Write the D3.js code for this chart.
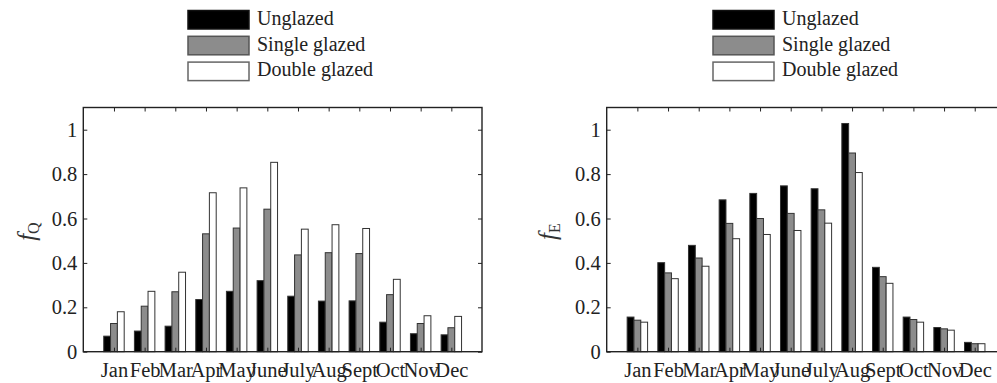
<!DOCTYPE html>
<html>
<head>
<meta charset="utf-8">
<script src="https://cdn.jsdelivr.net/npm/d3@7"></script>
<style>
  html, body { margin: 0; padding: 0; background: #fff; }
  svg { display: block; }
</style>
</head>
<body>
<svg id="chart" width="997" height="383"></svg>
<script>
const months = ["Jan","Feb","Mar","Apr","May","June","July","Aug","Sept","Oct","Nov","Dec"];
const seriesNames = ["Unglazed","Single glazed","Double glazed"];
const unglazedQ = [0.070,0.093,0.115,0.235,0.272,0.320,0.250,0.228,0.229,0.133,0.081,0.076];
const singleQ   = [0.127,0.205,0.270,0.531,0.557,0.642,0.436,0.446,0.442,0.257,0.127,0.108];
const doubleQ   = [0.180,0.272,0.358,0.716,0.738,0.853,0.552,0.572,0.555,0.326,0.162,0.159];
const unglazedE = [0.156,0.401,0.479,0.684,0.713,0.747,0.734,1.028,0.380,0.156,0.109,0.042];
const singleE   = [0.142,0.355,0.422,0.578,0.600,0.623,0.639,0.895,0.338,0.145,0.103,0.036];
const doubleE   = [0.133,0.329,0.385,0.509,0.528,0.546,0.579,0.807,0.308,0.133,0.097,0.036];
const yTicks = [0,0.2,0.4,0.6,0.8,1];
const yTickLabels = ["0","0.2","0.4","0.6","0.8","1"];

const fills = ["#000000","#8c8c8c","#ffffff"];
const legendStrokes = ["#111","#555","#666"];
const FONT = "'Liberation Serif','Times New Roman',serif";

const svg = d3.select("#chart");

function panel(opts) {
  const {x0, top, bottom, width, series, sub, labelX, legendX} = opts;
  const g = svg.append("g");
  const x = d3.scaleLinear().domain([0, 13]).range([x0, x0 + width]);
  const y = d3.scaleLinear().domain([0, 1.1]).range([bottom, top]);
  const bw = 2/9; // each bar width in x units

  // bars
  series.forEach((vals, si) => {
    g.append("g").selectAll("rect").data(vals).join("rect")
      .attr("x", (d, i) => x(i + 1 + (si - 1) * bw - bw / 2))
      .attr("width", (d, i) => x(bw) - x(0))
      .attr("y", d => y(d))
      .attr("height", d => y(0) - y(d))
      .attr("fill", fills[si])
      .attr("stroke", "#333")
      .attr("stroke-width", 1);
  });

  const ticksX = d3.range(1, 13);
  const ax = g.append("g").attr("transform", `translate(${x0},0)`)
    .call(d3.axisLeft(y).tickValues(yTicks).tickFormat((d, i) => yTickLabels[i])
      .tickSizeInner(-4).tickSizeOuter(0).tickPadding(6));
  const ar = g.append("g").attr("transform", `translate(${x0 + width},0)`)
    .call(d3.axisRight(y).tickValues(yTicks).tickFormat("")
      .tickSizeInner(-4).tickSizeOuter(0));
  const ab = g.append("g").attr("transform", `translate(0,${bottom})`)
    .call(d3.axisBottom(x).tickValues(ticksX).tickFormat(d => months[d - 1])
      .tickSizeInner(-4).tickSizeOuter(0).tickPadding(11));
  const at = g.append("g").attr("transform", `translate(0,${top})`)
    .call(d3.axisTop(x).tickValues(ticksX).tickFormat("")
      .tickSizeInner(-4).tickSizeOuter(0));
  [ax, ar, ab, at].forEach(a => {
    a.select(".domain").remove();
    a.selectAll("line").attr("stroke", "#222").attr("stroke-width", 1);
    a.selectAll("text").attr("font-family", FONT).attr("font-size", 20.5).attr("fill", "#222");
  });

  g.append("rect")
    .attr("x", x0).attr("y", top)
    .attr("width", width).attr("height", bottom - top)
    .attr("fill", "none").attr("stroke", "#222").attr("stroke-width", 1.4);

  const yl = g.append("text")
    .attr("transform", `translate(${labelX},${(top + bottom) / 2 + 2}) rotate(-90)`)
    .attr("text-anchor", "middle")
    .attr("font-family", FONT).attr("font-size", 25).attr("fill", "#333");
  yl.append("tspan").attr("font-style", "italic").text("f");
  yl.append("tspan").attr("font-size", 16).attr("dy", 4).text(sub);

  const lg = g.append("g");
  seriesNames.forEach((name, i) => {
    lg.append("rect")
      .attr("x", legendX).attr("y", 10.5 + i * 25.8)
      .attr("width", 61).attr("height", 18.5)
      .attr("fill", fills[i]).attr("stroke", legendStrokes[i]).attr("stroke-width", 1.5);
    lg.append("text")
      .attr("x", legendX + 69).attr("y", 24.8 + i * 25.8)
      .attr("font-family", FONT).attr("font-size", 20).attr("fill", "#222")
      .text(name);
  });
}

panel({x0: 83.3, top: 107.5, bottom: 351.7, width: 398.7,
       series: [unglazedQ, singleQ, doubleQ], sub: "Q", labelX: 35, legendX: 188});
panel({x0: 606.7, top: 107.5, bottom: 351.7, width: 398.7,
       series: [unglazedE, singleE, doubleE], sub: "E", labelX: 556, legendX: 713});
</script>
</body>
</html>
